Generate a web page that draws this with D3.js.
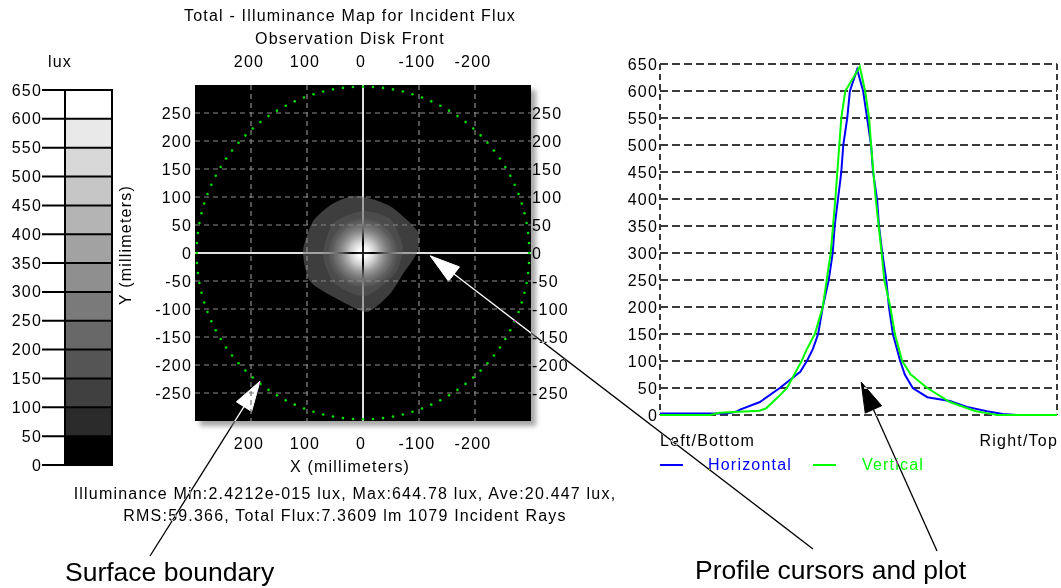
<!DOCTYPE html>
<html><head><meta charset="utf-8">
<script src="https://cdn.jsdelivr.net/npm/d3@7"></script>
<style>
html,body{margin:0;padding:0;background:#fff;}
svg{display:block;}
text{font-family:"Liberation Sans",Arial,sans-serif;fill:#000;}
text.sm{letter-spacing:1.2px;}
</style></head><body>
<svg id="c" width="1061" height="588"></svg>
<script>
// ---------------- DATA ----------------
const legendTicks = [0,50,100,150,200,250,300,350,400,450,500,550,600,650];
const bandColors = ["#000000","#2b2b2b","#404040","#555555","#686868","#7a7a7a","#8f8f8f","#a2a2a2","#b4b4b4","#c6c6c6","#d8d8d8","#e9e9e9","#ffffff"];
const mapBandColors = ["#000000","#3e3e3e","#4c4c4c","#5c5c5c","#6e6e6e","#808080","#939393","#a6a6a6","#b9b9b9","#cccccc","#dfdfdf","#f0f0f0","#ffffff"];
const mapXTicks = [200,100,0,-100,-200];
const mapYTicks = [250,200,150,100,50,0,-50,-100,-150,-200,-250];
const mapGridY = [250,200,150,100,50,-50,-100,-150,-200,-250];
const mapGridX = [200,100,-100,-200];
const boundaryRadius = 297;
const contour50 = [[10,102],[-48,84],[-98,38],[-96,0],[-71,-38],[-48,-73],[-7,-105],[46,-82],[95,-50],[107,4],[89,57],[54,88]];
const contour100 = [[1,75],[-48,61],[-71,11],[-57,-37],[-4,-77],[50,-55],[71,-5],[54,52]];
const ringLevels = [150,200,250,300,350,400,450,500,550,600];
const ringRadii = [60,52,45,39,34,29,25,20,15,10];
const profileTicks = [0,50,100,150,200,250,300,350,400,450,500,550,600,650];
const hPos = [-300,-224,-200,-185,-179,-149,-119,-88,-78,-69,-61,-54,-45,-39,-36,-31,-26,-23,-17,-13,-2,7,13,19,22,28,31,36,42,46,52,63,70,82,104,138,164,194,218,240,300];
const hLux = [3,3,3,6,10,24,50,80,100,122,150,200,250,300,350,400,450,500,550,600,640,600,550,500,450,400,350,300,250,200,150,100,75,50,33,26,15,7,2,0,0];
const vPos = [-300,-224,-210,-180,-150,-140,-120,-108,-86,-78,-66,-54,-48,-42,-35,-29,-26,-20,2,10,16,19,26,35,39,48,55,66,79,104,138,177,196,210,300];
const vLux = [0,0,4,6,8,12,35,50,100,122,150,200,250,300,400,500,550,600,645,600,550,500,400,300,250,200,150,100,75,50,24,7,3,0,0];
const titleLines = ["Total - Illuminance Map for Incident Flux","Observation Disk Front"];
const statsLines = ["Illuminance Min:2.4212e-015 lux, Max:644.78 lux, Ave:20.447 lux,","RMS:59.366, Total Flux:7.3609 lm 1079 Incident Rays"];
const legendLabels = ["Left/Bottom","Right/Top"];
const seriesNames = ["Horizontal","Vertical"];
const seriesColors = ["#0000ff","#00ff00"];

// ---------------- DRAW ----------------
const svg = d3.select("#c");
const defs = svg.append("defs");
const f = defs.append("filter").attr("id","shadow").attr("x","-5%").attr("y","-5%").attr("width","115%").attr("height","115%");
f.append("feDropShadow").attr("dx",5).attr("dy",5).attr("stdDeviation",2.5).attr("flood-color","#000").attr("flood-opacity",0.35);

const FS = 16;

// ---- color legend ----
const ly = d3.scaleLinear().domain([0,650]).range([465,90]);
const lg = svg.append("g");
lg.append("text").attr("class","sm").attr("x",60).attr("y",67).attr("text-anchor","middle").attr("font-size",FS).text("lux");
lg.selectAll("rect.band").data(bandColors).join("rect").attr("class","band")
  .attr("x",65).attr("width",47)
  .attr("y",(d,i)=>ly(legendTicks[i+1])).attr("height",(d,i)=>ly(legendTicks[i])-ly(legendTicks[i+1]))
  .attr("fill",d=>d);
lg.selectAll("line.sep").data(legendTicks).join("line").attr("class","sep")
  .attr("x1",42).attr("x2",112).attr("y1",d=>ly(d)).attr("y2",d=>ly(d)).attr("stroke","#000").attr("stroke-width",2);
lg.append("rect").attr("x",65).attr("y",ly(650)).attr("width",47).attr("height",ly(0)-ly(650)).attr("fill","none").attr("stroke","#000").attr("stroke-width",2);
lg.selectAll("text.tl").data(legendTicks).join("text").attr("class","tl sm")
  .attr("x",42).attr("y",d=>ly(d)+5.5).attr("text-anchor","end").attr("font-size",FS).text(d=>d);

// ---- map ----
const mx = d3.scaleLinear().domain([300,-300]).range([195,531]);
const my = d3.scaleLinear().domain([300,-300]).range([85,421]);
const mg = svg.append("g");
mg.append("rect").attr("x",mx(300)).attr("y",my(300)).attr("width",mx(-300)-mx(300)).attr("height",my(-300)-my(300))
  .attr("fill","#000").attr("filter","url(#shadow)");
const clip = defs.append("clipPath").attr("id","mclip");
clip.append("rect").attr("x",mx(300)).attr("y",my(300)).attr("width",mx(-300)-mx(300)).attr("height",my(-300)-my(300));
const inner = mg.append("g").attr("clip-path","url(#mclip)");
const cline = d3.line().x(d=>mx(d[0])).y(d=>my(d[1])).curve(d3.curveCardinalClosed.tension(0.3));
inner.append("path").attr("d",cline(contour50)).attr("fill",mapBandColors[1]);
inner.append("path").attr("d",cline(contour100)).attr("fill",mapBandColors[2]);
const blur = defs.append("filter").attr("id","soft");
blur.append("feGaussianBlur").attr("stdDeviation",1.2);
const rings = inner.append("g").attr("filter","url(#soft)");
rings.selectAll("circle").data(ringLevels).join("circle")
  .attr("cx",mx(0)).attr("cy",my(0)).attr("r",(d,i)=>mx(0)-mx(ringRadii[i]))
  .attr("fill",d=>mapBandColors[Math.min(12,Math.floor(d/50))]);
// grid
inner.selectAll("line.gy").data(mapGridY).join("line").attr("class","gy")
  .attr("x1",mx(300)).attr("x2",mx(-300)).attr("y1",d=>my(d)).attr("y2",d=>my(d))
  .attr("stroke","#8a8a8a").attr("stroke-width",1.2).attr("stroke-dasharray","5,4");
inner.selectAll("line.gx").data(mapGridX).join("line").attr("class","gx")
  .attr("y1",my(300)).attr("y2",my(-300)).attr("x1",d=>mx(d)).attr("x2",d=>mx(d))
  .attr("stroke","#8a8a8a").attr("stroke-width",1.2).attr("stroke-dasharray","5,4");
// cursors
const cur = inner.append("g").style("mix-blend-mode","difference");
cur.append("line").attr("x1",mx(300)).attr("x2",mx(-300)).attr("y1",my(0)).attr("y2",my(0)).attr("stroke","#e0e0e0").attr("stroke-width",2);
cur.append("line").attr("x1",mx(0)).attr("x2",mx(0)).attr("y1",my(300)).attr("y2",my(-300)).attr("stroke","#e0e0e0").attr("stroke-width",2);
// boundary dots
const nDots = 104;
inner.selectAll("circle.bd").data(d3.range(nDots)).join("circle").attr("class","bd")
  .attr("cx",i=>mx(boundaryRadius*Math.cos(2*Math.PI*i/nDots)))
  .attr("cy",i=>my(boundaryRadius*Math.sin(2*Math.PI*i/nDots)))
  .attr("r",1.3).attr("fill","#00e000");
// axis labels
mg.selectAll("text.xt").data(mapXTicks).join("text").attr("class","xt sm")
  .attr("x",d=>mx(d)-2).attr("y",67).attr("text-anchor","middle").attr("font-size",FS).text(d=>d);
mg.selectAll("text.xb").data(mapXTicks).join("text").attr("class","xb sm")
  .attr("x",d=>mx(d)-2).attr("y",449).attr("text-anchor","middle").attr("font-size",FS).text(d=>d);
mg.selectAll("text.yl").data(mapYTicks).join("text").attr("class","yl sm")
  .attr("x",192).attr("y",d=>my(d)+5.5).attr("text-anchor","end").attr("font-size",FS).text(d=>d);
mg.selectAll("text.yr").data(mapYTicks).join("text").attr("class","yr sm")
  .attr("x",532).attr("y",d=>my(d)+5.5).attr("text-anchor","start").attr("font-size",FS).text(d=>d);
mg.append("text").attr("class","sm").attr("x",350).attr("y",472).attr("text-anchor","middle").attr("font-size",FS).text("X (millimeters)");
mg.append("text").attr("class","sm").attr("transform","translate(131,245) rotate(-90)").attr("text-anchor","middle").attr("font-size",FS).text("Y (millimeters)");
svg.selectAll("text.title").data(titleLines).join("text").attr("class","title sm")
  .attr("x",350).attr("y",(d,i)=>21+i*23).attr("text-anchor","middle").attr("font-size",FS).text(d=>d);
svg.selectAll("text.stats").data(statsLines).join("text").attr("class","stats sm")
  .attr("x",345).attr("y",(d,i)=>499+i*22).attr("text-anchor","middle").attr("font-size",FS).text(d=>d);

// ---- profile ----
const px = d3.scaleLinear().domain([-300,300]).range([660,1057]);
const py = d3.scaleLinear().domain([0,650]).range([415,64]);
const pg = svg.append("g");
pg.selectAll("line.pg").data(profileTicks).join("line").attr("class","pg")
  .attr("x1",px(-300)).attr("x2",px(300)).attr("y1",d=>py(d)).attr("y2",d=>py(d))
  .attr("stroke","#3a3a3a").attr("stroke-width",2).attr("stroke-dasharray","8,4");
[-300,300].forEach(v=>{
  pg.append("line").attr("x1",px(v)).attr("x2",px(v)).attr("y1",py(650)).attr("y2",py(0))
    .attr("stroke","#3a3a3a").attr("stroke-width",2).attr("stroke-dasharray","6,4");
});
pg.selectAll("text.pt").data(profileTicks).join("text").attr("class","pt sm")
  .attr("x",658).attr("y",d=>py(d)+5.5).attr("text-anchor","end").attr("font-size",FS).text(d=>d);
const pline = d3.line().x(d=>px(d[0])).y(d=>py(d[1]));
pg.append("path").attr("d",pline(hPos.map((p,i)=>[p,hLux[i]]))).attr("fill","none").attr("stroke",seriesColors[0]).attr("stroke-width",2);
pg.append("path").attr("d",pline(vPos.map((p,i)=>[p,vLux[i]]))).attr("fill","none").attr("stroke",seriesColors[1]).attr("stroke-width",2);
pg.append("text").attr("class","sm").attr("x",660).attr("y",446).attr("font-size",FS).text(legendLabels[0]);
pg.append("text").attr("class","sm").attr("x",1058).attr("y",446).attr("text-anchor","end").attr("font-size",FS).text(legendLabels[1]);
const legX = [[660,708],[813,862]];
seriesNames.forEach((n,i)=>{
  pg.append("line").attr("x1",legX[i][0]).attr("x2",legX[i][0]+23).attr("y1",465).attr("y2",465).attr("stroke",seriesColors[i]).attr("stroke-width",2);
  pg.append("text").attr("class","sm").attr("x",legX[i][1]).attr("y",470).attr("font-size",FS).style("fill",seriesColors[i]).text(n);
});

// ---- annotations (drawn inverted, like XOR cursors) ----
const ann = svg.append("g").style("mix-blend-mode","difference");
function arrow(x0,y0,x1,y1){
  const dx=x1-x0, dy=y1-y0, L=Math.hypot(dx,dy), ux=dx/L, uy=dy/L;
  const hl=30, hw=9;
  const bx=x1-ux*hl, by=y1-uy*hl;
  ann.append("line").attr("x1",x0).attr("y1",y0).attr("x2",bx).attr("y2",by).attr("stroke","#fff").attr("stroke-width",1.3);
  ann.append("path").attr("d",`M${x1},${y1}L${bx-uy*hw},${by+ux*hw}L${bx+uy*hw},${by-ux*hw}Z`)
    .attr("fill","#fff").attr("stroke","#fff").attr("stroke-width",1);
}
arrow(150,556,mx(184),my(-229));
arrow(813,549,mx(-120),my(-5));
arrow(937,551,px(4),py(61));
svg.append("text").attr("x",65).attr("y",581).attr("font-size",26.5).text("Surface boundary");
svg.append("text").attr("x",695).attr("y",579).attr("font-size",26.5).text("Profile cursors and plot");
</script>
</body></html>
